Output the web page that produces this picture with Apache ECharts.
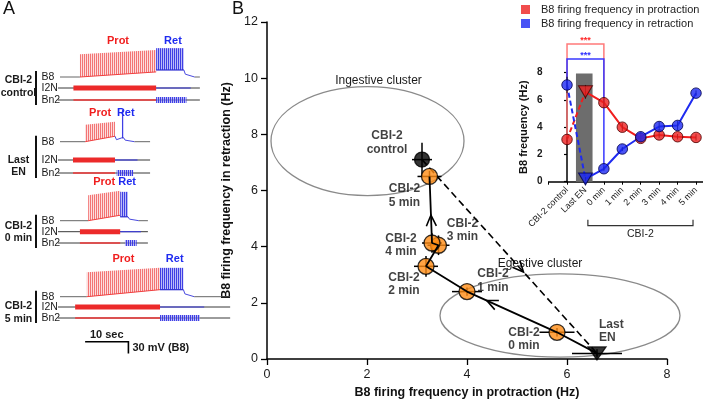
<!DOCTYPE html>
<html>
<head>
<meta charset="utf-8">
<script src="https://cdn.jsdelivr.net/npm/echarts@6.0.0/dist/echarts.min.js"></script>
<style>html,body{margin:0;padding:0;background:#fff;}#chart{width:703px;height:404px;}</style>
</head>
<body>
<div id="chart"></div>
<script>
// ================= DATA =================
// Panel B: CBI-2 program stages
const stages = ['CBI-2 control', 'Last EN', '0 min', '1 min', '2 min', '3 min', '4 min', '5 min'];
const pointLabels = ['CBI-2\ncontrol', 'Last\nEN', 'CBI-2\n0 min', 'CBI-2\n1 min', 'CBI-2\n2 min', 'CBI-2\n3 min', 'CBI-2\n4 min', 'CBI-2\n5 min'];
const protFreq = [3.1, 6.6, 5.8, 4.0, 3.18, 3.43, 3.3, 3.25];   // B8 Hz in protraction
const retrFreq = [7.1, 0.2, 0.95, 2.4, 3.3, 4.05, 4.13, 6.5];   // B8 Hz in retraction
const protSem = [0.2, 0.5, 0.35, 0.3, 0.24, 0.22, 0.2, 0.24];
const retrSem = [0.6, 0.15, 0.15, 0.15, 0.37, 0.35, 0.35, 0.2];
const enShadeValue = 7.95;                                      // grey EN bar in inset
// clusters
const clusterNames = ['Ingestive cluster', 'Egestive cluster'];
const clusterCx = [2.01, 5.86];
const clusterCy = [7.76, 1.55];
const clusterRx = [1.93, 2.4];
const clusterRy = [1.94, 1.48];
// significance
const sigFrom = [0, 0];
const sigTo = [2, 2];
const sigText = ['***', '***'];
// Panel A: recordings (times in s, amplitudes in mV)
const recNames = ['CBI-2\ncontrol', 'Last\nEN', 'CBI-2\n0 min', 'CBI-2\n5 min'];
const traceNames = ['B8', 'I2N', 'Bn2'];
const protStart = [4.6, 5.8, 6.5, 6.2];
const protEnd = [22.2, 12.7, 13.9, 23.1];
const b8RetStart = [22.2, 14.3, 13.9, 23.1];
const b8RetEnd = [28.6, 14.7, 15.7, 28.5];
const i2nStart = [3.1, 3.0, 4.6, 3.5];
const bn2RetStart = [22.2, 13.1, 15.0, 23.1];
const bn2RetEnd = [29.2, 16.9, 17.7, 32.3];
const traceEnd = [32.3, 20.8, 20.3, 39.3];
const protSpikeMV = [69, 51, 77, 74];
const retSpikeMV = [74, 82, 74, 74];
const protPlateauMV = [13, 14, 14, 18];
const retPlateauMV = [18, 10, 10, 18];
const scaleSec = 10;
const scaleMV = 30;

// ================= LAYOUT / STYLE =================
const FONT = 'Liberation Sans, Arial, Helvetica, sans-serif';
const ORANGE = '#ff8c14';
const RED = '#f01e1e';
const BLUE = '#1f2bf0';
const A_ROWS = [[77, 88, 100], [141.7, 160, 173], [220.7, 231.7, 243], [296.7, 307, 318]];
const A_GROUP_Y = [86.5, 166, 232, 312.5];
const A_SCALE_T0 = 5.8, A_SCALE_Y = 341.7;
const LABEL_OFFSETS = [[-35, -17], [2, -22], [-33, 7], [26, -11], [-22, 18], [24, -15], [-31, 2], [-25, 19]];
const LABEL_ALIGN = ['center', 'left', 'center', 'center', 'center', 'center', 'center', 'center'];
const CLUSTER_LABEL_OFFSET = [[11, -60], [-20, -51.5]];
const ARROWS = [[2, 3, 0.78], [6, 7, 0.42], [0, 1, 0.58]];
const SIG_TOP = [10.1, 9.0];

function makePattern(lineCol, bgCol, w) {
  const c = document.createElement('canvas');
  c.width = w; c.height = 4;
  const g = c.getContext('2d');
  g.fillStyle = bgCol; g.fillRect(0, 0, w, 4);
  g.fillStyle = lineCol; g.fillRect(0, 0, 1, 4);
  return { image: c, repeat: 'repeat' };
}
const RED_PAT = makePattern('rgba(240,80,80,0.75)', 'rgba(250,195,195,0.55)', 2);
const BLUE_PAT = makePattern('rgba(50,50,225,0.9)', 'rgba(150,150,245,0.65)', 2);

function pl(points, color, w) { return { type: 'polyline', shape: { points }, style: { stroke: color, lineWidth: w, fill: null } }; }
function bx(x, y, w, h, fill) { return { type: 'rect', shape: { x, y, width: w, height: h }, style: { fill } }; }
function tx(x, y, text, o) {
  return { type: 'text', x, y, style: Object.assign({ text, fontFamily: FONT, fontSize: 12, fill: '#1a1a1a', align: 'left', verticalAlign: 'middle' }, o || {}) };
}

// ---------- Panel A ----------
function renderRecording(params, api) {
  const i = params.dataIndex;
  const X = t => api.coord([t, 0])[0];
  const pxMV = api.size([0, 1])[1];
  const pxS = api.size([1, 0])[0];
  const [yB, yI, yN] = A_ROWS[i];
  const ch = [];
  const x0 = X(0), xEnd = X(traceEnd[i]);
  const xPs = X(protStart[i]), xPe = X(protEnd[i]);
  const xRs = X(b8RetStart[i]), xRe = X(b8RetEnd[i]);
  const pPl = protPlateauMV[i] * pxMV, pSp = protSpikeMV[i] * pxMV;
  const rPl = retPlateauMV[i] * pxMV, rSp = retSpikeMV[i] * pxMV;
  // B8
  ch.push(pl([[x0, yB], [xPs, yB]], '#555', 0.9));
  ch.push({ type: 'polygon', shape: { points: [[xPs, yB], [xPs, yB - pSp * 0.85], [xPe, yB - pSp], [xPe, yB - pPl], [xPs, yB]] }, style: { fill: RED_PAT } });
  ch.push(pl([[xPs, yB], [xPe, yB - pPl]], '#f04040', 1));
  if (xRs > xPe + 0.5) ch.push(pl([[xPe, yB - pPl], [xPe + 1.5, yB - 2], [xRs, yB - rPl]], '#4444dd', 1));
  ch.push(bx(xRs, yB - rSp, Math.max(xRe - xRs, 1.5), rSp - rPl, BLUE_PAT));
  ch.push(pl([[xRs, yB - rPl], [xRe, yB - rPl]], '#2a2ad0', 1.2));
  const xT = Math.min(xRe + 2.5 * pxS, xEnd);
  ch.push(pl([[xRe, yB - rPl], [xRe + 1.5, yB - rPl * 0.4], [xT, yB]], '#4a4ae0', 1));
  ch.push(pl([[xT, yB], [xEnd, yB]], '#555', 0.9));
  ch.push(tx((xPs + xPe) / 2, yB - pSp - 9, 'Prot', { align: 'center', fontWeight: 'bold', fontSize: 11, fill: RED }));
  ch.push(tx((xRs + xRe) / 2 + 3, yB - pSp - 9, 'Ret', { align: 'center', fontWeight: 'bold', fontSize: 11, fill: BLUE }));
  // I2N
  const xIs = X(i2nStart[i]);
  const xNs = X(bn2RetStart[i]), xNe = X(bn2RetEnd[i]);
  ch.push(pl([[x0 - 2, yI], [xEnd, yI]], '#222', 0.9));
  ch.push(bx(xIs, yI - 2.5, xPe - xIs, 5, '#ec2a2a'));
  ch.push(pl([[xPe, yI], [Math.min(xNe + pxS, xEnd - 2), yI]], '#3a3ae0', 1.1));
  // Bn2
  ch.push(pl([[x0 - 2, yN], [xEnd, yN]], '#222', 0.9));
  ch.push(pl([[xIs, yN], [xPe, yN]], '#f03838', 1.5));
  ch.push(bx(xNs, yN - 3, xNe - xNs, 6, BLUE_PAT));
  // labels
  traceNames.forEach((n, k) => ch.push(tx(41.5, A_ROWS[i][k], n, { fontSize: 10.5 })));
  ch.push(bx(35, yB - 6, 2, yN - yB + 11, '#111'));
  ch.push(tx(18.5, A_GROUP_Y[i], recNames[i], { align: 'center', fontWeight: 'bold', fontSize: 10.5, lineHeight: 12.5 }));
  return { type: 'group', children: ch };
}
function renderScale(params, api) {
  const xa = api.coord([A_SCALE_T0, 0])[0];
  const xb = api.coord([A_SCALE_T0 + api.value(0), 0])[0];
  const h = api.size([0, api.value(1)])[1];
  return { type: 'group', children: [
    pl([[xa, A_SCALE_Y], [xb, A_SCALE_Y], [xb, A_SCALE_Y + h]], '#000', 1.6),
    tx((xa + xb) / 2, A_SCALE_Y - 7, scaleSec + ' sec', { align: 'center', fontWeight: 'bold', fontSize: 11 }),
    tx(xb + 4, A_SCALE_Y + h / 2 + 0.5, scaleMV + ' mV (B8)', { fontWeight: 'bold', fontSize: 11 })
  ] };
}

// ---------- Panel B ----------
function renderCluster(params, api) {
  const i = params.dataIndex;
  const c = api.coord([api.value(0), api.value(1)]);
  const s = api.size([api.value(2), api.value(3)]);
  return { type: 'group', children: [
    { type: 'ellipse', shape: { cx: c[0], cy: c[1], rx: s[0], ry: s[1] }, style: { fill: null, stroke: '#8a8a8a', lineWidth: 1.3 } },
    tx(c[0] + CLUSTER_LABEL_OFFSET[i][0], c[1] + CLUSTER_LABEL_OFFSET[i][1], clusterNames[i], { align: 'center', fontSize: 12 })
  ] };
}
function renderErrXY(params, api) {
  const x = api.value(0), y = api.value(1), ex = api.value(2), ey = api.value(3);
  const l = api.coord([x - ex, y]), r = api.coord([x + ex, y]);
  const t = api.coord([x, y + ey]), b = api.coord([x, y - ey]);
  return { type: 'group', children: [pl([l, r], '#000', 1.5), pl([t, b], '#000', 1.5)] };
}
function renderArrow(params, api) {
  const a = api.value(0), b = api.value(1), f = api.value(2);
  const p1 = api.coord([protFreq[a], retrFreq[a]]), p2 = api.coord([protFreq[b], retrFreq[b]]);
  const dx = p2[0] - p1[0], dy = p2[1] - p1[1], L = Math.hypot(dx, dy);
  const ux = dx / L, uy = dy / L, nx = -uy, ny = ux;
  const P = [p1[0] + dx * f, p1[1] + dy * f];
  const len = 11, w = 5;
  return pl([[P[0] - ux * len + nx * w, P[1] - uy * len + ny * w], P, [P[0] - ux * len - nx * w, P[1] - uy * len - ny * w]], '#000', 1.6);
}
function renderEnBar(params, api) {
  const top = api.coord([api.value(0), api.value(1)]);
  const bot = api.coord([api.value(0), 0]);
  return bx(top[0] - 9.5, top[1], 16.6, bot[1] - top[1], '#6d6d6d');
}
function renderSig(params, api) {
  const k = params.dataIndex;
  const vals = k === 0 ? protFreq : retrFreq;
  const f = api.value(0), t = api.value(1);
  const p1 = api.coord([f, vals[f]]), p2 = api.coord([t, vals[t]]);
  const yTop = api.coord([f, SIG_TOP[k]])[1];
  const col = k === 0 ? '#ff7a7a' : '#3838ff';
  return { type: 'group', children: [
    pl([p1, [p1[0], yTop], [p2[0], yTop], p2], col, 1.5),
    tx((p1[0] + p2[0]) / 2, yTop - 3.5, sigText[k], { align: 'center', fontSize: 9, fontWeight: 'bold', fill: k === 0 ? '#ff2a2a' : '#3030ff' })
  ] };
}
function renderErrY(params, api) {
  const x = api.value(0), y = api.value(1), e = api.value(2);
  return pl([api.coord([x, y + e]), api.coord([x, y - e])], '#111', 1);
}
function renderGroupBracket(params, api) {
  const a = api.coord([api.value(0), 0]), b = api.coord([api.value(1), 0]);
  const y = a[1] + 44;
  const xl = a[0] - 16, xr = b[0] - 3;
  return { type: 'group', children: [
    pl([[xl, y - 6], [xl, y], [xr, y], [xr, y - 6]], '#333', 1.2),
    tx((xl + xr) / 2, y + 8, 'CBI-2', { align: 'center', fontSize: 10.5, fill: '#222' })
  ] };
}

const idx = stages.map((s, i) => i);
const mainPts = stages.map((s, i) => ({
  value: [protFreq[i], retrFreq[i]],
  symbol: i === 1 ? 'triangle' : 'circle',
  symbolRotate: i === 1 ? 180 : 0,
  symbolSize: i === 1 ? [18, 13] : (i === 0 ? 15 : 16),
  itemStyle: { color: i <= 1 ? '#000' : ORANGE, borderColor: '#000', borderWidth: 1.3 },
  label: { show: true, formatter: pointLabels[i], position: 'inside', offset: LABEL_OFFSETS[i], align: LABEL_ALIGN[i], verticalAlign: 'middle',
           fontFamily: FONT, fontSize: 12, fontWeight: 'bold', color: '#111', lineHeight: 13.5 }
}));
function insetPts(vals) {
  return stages.map((s, i) => ({ value: [i, vals[i]], symbol: i === 1 ? 'triangle' : 'circle', symbolRotate: i === 1 ? 180 : 0, symbolSize: i === 1 ? [14, 12] : 10.5 }));
}
const NAME_P = 'B8 firing frequency in protraction';
const NAME_R = 'B8 firing frequency in retraction';

const axisCommon = {
  axisLine: { lineStyle: { color: '#000', width: 1.5 } },
  axisTick: { show: true, length: 6, lineStyle: { color: '#000', width: 1.3 } },
  splitLine: { show: false }
};

const option = {
  animation: false,
  backgroundColor: '#fff',
  textStyle: { fontFamily: FONT },
  legend: {
    data: [NAME_P, NAME_R], orient: 'vertical', left: 516, top: -1, itemWidth: 9, itemHeight: 9, itemGap: 3,
    icon: 'rect', selectedMode: false, itemStyle: { borderWidth: 0 },
    textStyle: { fontSize: 11, color: '#222', fontFamily: FONT, padding: [0, 0, 0, 6] }
  },
  graphic: [
    { type: 'text', left: 3, top: 0, style: { text: 'A', fontSize: 18, fontFamily: FONT, fill: '#111' } },
    { type: 'text', left: 232, top: 0, style: { text: 'B', fontSize: 18, fontFamily: FONT, fill: '#111' } }
  ],
  grid: [
    { left: 267, top: 22, width: 400, height: 337, outerBoundsMode: 'none' },
    { left: 548.6, top: 72.7, width: 164, height: 109, outerBoundsMode: 'none' },
    { left: 60, top: 0, width: 180, height: 404, outerBoundsMode: 'none' }
  ],
  xAxis: [
    Object.assign({}, axisCommon, {
      gridIndex: 0, type: 'value', min: 0, max: 8, interval: 2,
      axisLabel: { fontSize: 12.5, color: '#1a1a1a', margin: 9, fontFamily: FONT },
      name: 'B8 firing frequency in protraction (Hz)', nameLocation: 'middle', nameGap: 25,
      nameTextStyle: { fontSize: 12.5, fontWeight: 'bold', color: '#111', fontFamily: FONT }
    }),
    Object.assign({}, axisCommon, {
      gridIndex: 1, type: 'value', min: -1, max: 7.9, interval: 1,
      axisTick: { show: true, length: 3, lineStyle: { color: '#000', width: 1 } },
      axisLabel: { fontSize: 9, color: '#1a1a1a', margin: 7, rotate: 45, fontFamily: FONT,
                   formatter: v => (Number.isInteger(v) && v >= 0 && v < stages.length) ? stages[v] : '' }
    }),
    { gridIndex: 2, type: 'value', min: 0, max: 41.57, show: false }
  ],
  yAxis: [
    Object.assign({}, axisCommon, {
      gridIndex: 0, type: 'value', min: 0, max: 12, interval: 2,
      axisLabel: { fontSize: 12.5, color: '#1a1a1a', margin: 9, fontFamily: FONT },
      name: 'B8 firing frequency in retraction (Hz)', nameLocation: 'middle', nameGap: 17, nameRotate: 90,
      nameTextStyle: { fontSize: 12.5, fontWeight: 'bold', color: '#111', fontFamily: FONT }
    }),
    Object.assign({}, axisCommon, {
      gridIndex: 1, type: 'value', min: 0, max: 8, interval: 2,
      axisTick: { show: true, length: 3, lineStyle: { color: '#000', width: 1.2 } },
      axisLabel: { fontSize: 10, fontWeight: 'bold', color: '#1a1a1a', margin: 6, fontFamily: FONT },
      name: 'B8 frequency (Hz)', nameLocation: 'middle', nameGap: 19, nameRotate: 90,
      nameTextStyle: { fontSize: 11, fontWeight: 'bold', color: '#111', fontFamily: FONT }
    }),
    { gridIndex: 2, type: 'value', min: 0, max: 1036, show: false }
  ],
  series: [
    // ---- Panel A ----
    { type: 'custom', name: 'traces', xAxisIndex: 2, yAxisIndex: 2, renderItem: renderRecording, data: recNames.map((n, i) => [i, 0]), silent: true },
    { type: 'custom', name: 'scale', xAxisIndex: 2, yAxisIndex: 2, renderItem: renderScale, data: [[scaleSec, scaleMV]], silent: true },
    // ---- Panel B main ----
    { type: 'custom', name: 'clusters', xAxisIndex: 0, yAxisIndex: 0, renderItem: renderCluster, z: 1,
      data: clusterNames.map((n, i) => [clusterCx[i], clusterCy[i], clusterRx[i], clusterRy[i]]), silent: true },
    { type: 'line', name: 'transition', xAxisIndex: 0, yAxisIndex: 0, z: 2, symbol: 'none', silent: true,
      lineStyle: { color: '#000', width: 1.6, type: [7, 4] },
      data: [[protFreq[0], retrFreq[0]], [protFreq[1], retrFreq[1]]] },
    { type: 'custom', name: 'errXY', xAxisIndex: 0, yAxisIndex: 0, renderItem: renderErrXY, z: 3, silent: true,
      data: idx.map(i => [protFreq[i], retrFreq[i], protSem[i], retrSem[i]]) },
    { type: 'scatter', name: 'stages', xAxisIndex: 0, yAxisIndex: 0, z: 4, data: mainPts, silent: true },
    { type: 'line', name: 'recovery', xAxisIndex: 0, yAxisIndex: 0, z: 5, symbol: 'none', silent: true,
      lineStyle: { color: '#000', width: 1.8 },
      data: idx.slice(1).map(i => [protFreq[i], retrFreq[i]]) },
    { type: 'custom', name: 'arrows', xAxisIndex: 0, yAxisIndex: 0, renderItem: renderArrow, z: 6, silent: true, data: ARROWS },
    // ---- Inset ----
    { type: 'custom', name: 'enBar', xAxisIndex: 1, yAxisIndex: 1, renderItem: renderEnBar, z: 1, silent: true, data: [[1, enShadeValue]] },
    { type: 'custom', name: 'sig', xAxisIndex: 1, yAxisIndex: 1, renderItem: renderSig, z: 2, silent: true,
      data: sigFrom.map((f, k) => [f, sigTo[k]]) },
    { type: 'line', name: 'pDash', xAxisIndex: 1, yAxisIndex: 1, z: 3, symbol: 'none', silent: true,
      lineStyle: { color: RED, width: 2, type: [5, 3] }, data: [[0, protFreq[0]], [1, protFreq[1]]] },
    { type: 'line', name: 'pSolid', xAxisIndex: 1, yAxisIndex: 1, z: 3, symbol: 'none', silent: true,
      lineStyle: { color: RED, width: 2 }, data: idx.slice(1).map(i => [i, protFreq[i]]) },
    { type: 'line', name: 'rDash', xAxisIndex: 1, yAxisIndex: 1, z: 3, symbol: 'none', silent: true,
      lineStyle: { color: BLUE, width: 2, type: [5, 3] }, data: [[0, retrFreq[0]], [1, retrFreq[1]]] },
    { type: 'line', name: 'rSolid', xAxisIndex: 1, yAxisIndex: 1, z: 3, symbol: 'none', silent: true,
      lineStyle: { color: BLUE, width: 2 }, data: idx.slice(1).map(i => [i, retrFreq[i]]) },
    { type: 'custom', name: 'errP', xAxisIndex: 1, yAxisIndex: 1, renderItem: renderErrY, z: 4, silent: true,
      data: idx.map(i => [i, protFreq[i], protSem[i]]) },
    { type: 'custom', name: 'errR', xAxisIndex: 1, yAxisIndex: 1, renderItem: renderErrY, z: 4, silent: true,
      data: idx.map(i => [i, retrFreq[i], retrSem[i]]) },
    { type: 'scatter', name: NAME_P, xAxisIndex: 1, yAxisIndex: 1, z: 5, silent: true, data: insetPts(protFreq),
      itemStyle: { color: '#ee2020', borderColor: '#4a0000', borderWidth: 1 } },
    { type: 'scatter', name: NAME_R, xAxisIndex: 1, yAxisIndex: 1, z: 5, silent: true, data: insetPts(retrFreq),
      itemStyle: { color: '#1c28f2', borderColor: '#00004a', borderWidth: 1 } },
    { type: 'custom', name: 'groupBracket', xAxisIndex: 1, yAxisIndex: 1, renderItem: renderGroupBracket, z: 2, silent: true, data: [[2, 7]] }
  ]
};
const chart = echarts.init(document.getElementById('chart'), null, { renderer: 'canvas', width: 703, height: 404 });
chart.setOption(option);
</script>
</body>
</html>
